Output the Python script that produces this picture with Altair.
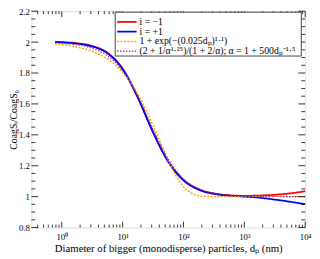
import altair as alt
import pandas as pd

# ---- data ----
dp_model = [0.776, 1, 1.778, 3.162, 5.623, 10, 17.78, 31.62, 56.23, 100,
            177.8, 316.2, 562.3, 1000, 1778, 3162, 5623, 10000]
ratio_im1 = [2.002, 2.000, 1.993, 1.975, 1.931, 1.828, 1.643, 1.418, 1.228, 1.108,
             1.048, 1.021, 1.009, 1.005, 1.007, 1.012, 1.021, 1.035]
ratio_ip1 = [2.000, 1.998, 1.990, 1.972, 1.928, 1.825, 1.640, 1.415, 1.225, 1.105,
             1.045, 1.018, 1.006, 1.000, 0.993, 0.981, 0.967, 0.951]
ratio_fit2 = [1.995, 1.992, 1.983, 1.960, 1.911, 1.814, 1.648, 1.435, 1.241, 1.115,
              1.051, 1.022, 1.009, 1.004, 1.002, 1.001, 1.000, 1.000]
dp_fit1 = [0.776, 1, 1.778, 3.162, 5.623, 10, 17.78, 31.62, 56.23, 75, 100,
           133.4, 177.8, 237, 316.2, 562.3, 1000, 10000]
ratio_fit1 = [1.987, 1.983, 1.968, 1.941, 1.891, 1.804, 1.664, 1.462, 1.234, 1.136, 1.065,
              1.023, 1.006, 1.001, 1.000, 1.000, 1.000, 1.000]

labels = ["i = −1", "i = +1", "1 + exp(−(0.025dₚ)¹·¹)",
          "(2 + 1/α¹·²⁵)/(1 + 2/α); α = 1 + 500dₚ⁻¹·⁵"]
colors = ["#ff0000", "#0000ff", "#ffa500", "#7e2f8e"]
dashes = [[1, 0], [1, 0], [2, 1.5], [1.5, 1.5]]
widths = [1.8, 1.8, 1.5, 1.2]

x_major = [1, 10, 100, 1000, 10000]
x_minor = [0.4, 0.5, 0.6, 0.7, 0.8, 0.9,
           2, 3, 4, 5, 6, 7, 8, 9,
           20, 30, 40, 50, 60, 70, 80, 90,
           200, 300, 400, 500, 600, 700, 800, 900,
           2000, 3000, 4000, 5000, 6000, 7000, 8000, 9000]
y_major = [0.8, 1.0, 1.2, 1.4, 1.6, 1.8, 2.0, 2.2]
y_minor = [0.85, 0.9, 0.95, 1.05, 1.1, 1.15, 1.25, 1.3, 1.35, 1.45, 1.5, 1.55,
           1.65, 1.7, 1.75, 1.85, 1.9, 1.95, 2.05, 2.1, 2.15]

W, H = 281, 222
FONT = "Liberation Serif, Times New Roman, serif"

series = [
    (labels[0], dp_model, ratio_im1),
    (labels[1], dp_model, ratio_ip1),
    (labels[2], dp_fit1, ratio_fit1),
    (labels[3], dp_model, ratio_fit2),
]

xscale = alt.Scale(type="log", domain=[0.3162, 10000], nice=False)
yscale = alt.Scale(domain=[0.8, 2.2], nice=False, zero=False)

x_axis = alt.Axis(values=x_major, ticks=False, domain=False, grid=False,
                  labelExpr="'10' + ['⁰','¹','²','³','⁴'][round(log(datum.value)/LN10)]",
                  labelFont=FONT, labelFontSize=9, labelPadding=5,
                  labelColor="black", labelOverlap=False, labelFlush=False,
                  title="Diameter of bigger (monodisperse) particles, dₚ (nm)",
                  titleFont=FONT, titleFontSize=11, titleFontWeight="normal",
                  titleColor="black", titlePadding=2)
y_axis = alt.Axis(values=y_major, format="~g", ticks=False, domain=False,
                  grid=False, labelFont=FONT, labelFontSize=9, labelPadding=2,
                  labelColor="black", labelOverlap=False, labelFlush=False,
                  title="CoagSᵢ/CoagS₀", titleFont=FONT, titleFontSize=10,
                  titleFontWeight="normal", titleColor="black",
                  titleX=-13, titleY=H / 2)

X = lambda: alt.X("dp:Q", scale=xscale, axis=x_axis)
Y = lambda: alt.Y("ratio:Q", scale=yscale, axis=y_axis)

layers = []
for i, (lab, xs, ys) in enumerate(series):
    df = pd.DataFrame({"dp": xs, "ratio": ys, "series": lab})
    layers.append(
        alt.Chart(df).mark_line(color=colors[i], strokeWidth=widths[i],
                                strokeDash=dashes[i], interpolate="monotone")
        .encode(x=X(), y=Y())
    )

# inward ticks
def xticks(vals, length):
    d = pd.DataFrame({"dp": vals})
    bot = alt.Chart(d).mark_rule(color="black", strokeWidth=0.8).encode(
        x=X(), y=alt.value(H), y2=alt.value(H - length))
    top = alt.Chart(d).mark_rule(color="black", strokeWidth=0.8).encode(
        x=X(), y=alt.value(0), y2=alt.value(length))
    return [bot, top]

def yticks(vals, length):
    d = pd.DataFrame({"ratio": vals})
    left = alt.Chart(d).mark_rule(color="black", strokeWidth=0.8).encode(
        y=Y(), x=alt.value(0), x2=alt.value(length))
    right = alt.Chart(d).mark_rule(color="black", strokeWidth=0.8).encode(
        y=Y(), x=alt.value(W), x2=alt.value(W - length))
    return [left, right]

tick_layers = xticks(x_major, 6) + xticks(x_minor, 3) + yticks(y_major, 7) + yticks(y_minor, 4)

# legend (custom, inside plot, top right)
LX0, LX1, LY0, LY1 = 86, 277, 1, 46
box = alt.Chart(pd.DataFrame({"a": [0]})).mark_rect(
    fill="white", stroke="#444444", strokeWidth=1).encode(
    x=alt.value(LX0), x2=alt.value(LX1), y=alt.value(LY0), y2=alt.value(LY1))
leg_layers = [box]
row_y = [11, 21, 31, 41]
for i, lab in enumerate(labels):
    leg_layers.append(
        alt.Chart(pd.DataFrame({"label": [lab]})).mark_rule(
            color=colors[i], strokeWidth=widths[i], strokeDash=dashes[i]).encode(
            x=alt.value(88), x2=alt.value(108), y=alt.value(row_y[i])))
    leg_layers.append(
        alt.Chart(pd.DataFrame({"label": [lab]})).mark_text(
            align="left", baseline="middle", font=FONT, fontSize=10, color="black").encode(
            text="label:N", x=alt.value(111), y=alt.value(row_y[i])))

chart = alt.layer(*layers, *tick_layers, *leg_layers).properties(
    width=W, height=H,
    autosize=alt.AutoSizeParams(type="none"),
    padding={"left": 24, "top": 0, "right": 7, "bottom": 29},
).configure_view(stroke="black", strokeWidth=1).configure(background="white")

chart.save("out.html", embed_options={"renderer": "svg", "actions": False})
